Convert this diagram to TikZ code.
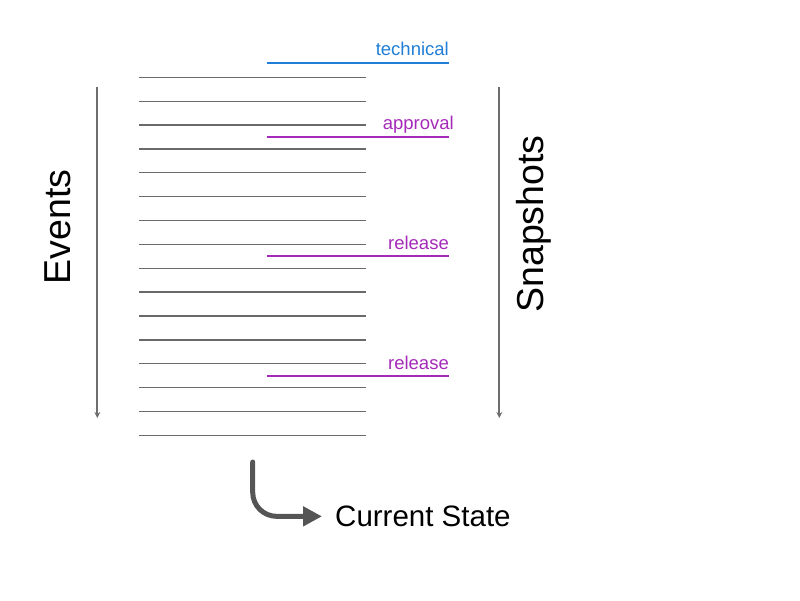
\documentclass[tikz,border=0pt]{standalone}
\usepackage{xcolor}
\usepackage{fontspec}
\setmainfont{Liberation Sans}
\usetikzlibrary{arrows.meta}

\definecolor{techblue}{HTML}{1F7ED6}
\definecolor{relpurple}{HTML}{A52AB9}
\definecolor{loggrey}{HTML}{6A6A6A}
\definecolor{axisgrey}{HTML}{6E6E6E}
\definecolor{stategrey}{HTML}{555555}

\begin{document}
\begin{tikzpicture}[x=1pt, y=-1pt]
		\def\top{77.3};
		\def\gap{23.87};
		\def\snapL{267};
		\def\snapR{449};

		\useasboundingbox (0,0) rectangle (800,600);

		% event log
		\foreach \i in {0,...,15} {
			\draw [loggrey, line width=1.3pt] (139,{\top+\i*\gap}) -- (366,{\top+\i*\gap});
		}

		% snapshots
		\draw [techblue, line width=1.8pt] (\snapL,62.7) -- (\snapR,62.7);
		\draw [relpurple, line width=1.8pt] (\snapL,136.7) -- (\snapR,136.7);
		\draw [relpurple, line width=1.8pt] (\snapL,256.3) -- (\snapR,256.3);
		\draw [relpurple, line width=1.8pt] (\snapL,376) -- (\snapR,376);

		\node [anchor=base east, inner sep=0, text=techblue, font=\fontsize{18.5}{22}\selectfont] (technical) at (449,55) {technical};
		\node [anchor=base east, inner sep=0, text=relpurple, font=\fontsize{18.5}{22}\selectfont] (approval) at (454,129.5) {approval};
		\node [anchor=base east, inner sep=0, text=relpurple, font=\fontsize{18.5}{22}\selectfont] (releaseA) at (449,249.5) {release};
		\node [anchor=base east, inner sep=0, text=relpurple, font=\fontsize{18.5}{22}\selectfont] (releaseB) at (449,369.5) {release};

		% axes
		\coordinate (eventsTop) at (97.3,87);
		\coordinate (eventsEnd) at (97.3,418);
		\coordinate (snapsTop) at (499.3,87);
		\coordinate (snapsEnd) at (499.3,418);

		\begin{scope}[-{Stealth[length=6pt, width=6pt]}, axisgrey, line width=1.9pt]
			\draw (eventsTop) -- (eventsEnd);
			\draw (snapsTop) -- (snapsEnd);
		\end{scope}

		\node [rotate=90, anchor=base, inner sep=0, font=\fontsize{37.5}{44}\selectfont] (events) at (70.5,227) {Events};
		\node [rotate=90, anchor=base, inner sep=0, font=\fontsize{37.5}{44}\selectfont] (snapshots) at (543,224) {Snapshots};

		% replay
		\node [anchor=base west, inner sep=0, font=\fontsize{29.5}{35}\selectfont] (state) at (335,526.5) {Current State};
		\coordinate (replay) at (252.7,462);
		\draw [stategrey, line width=5pt, line cap=round, rounded corners=24pt, -{Triangle[length=19pt, width=19pt]}]
			(replay) |- ([xshift=-13pt]state.west);
	\end{tikzpicture}
\end{document}
